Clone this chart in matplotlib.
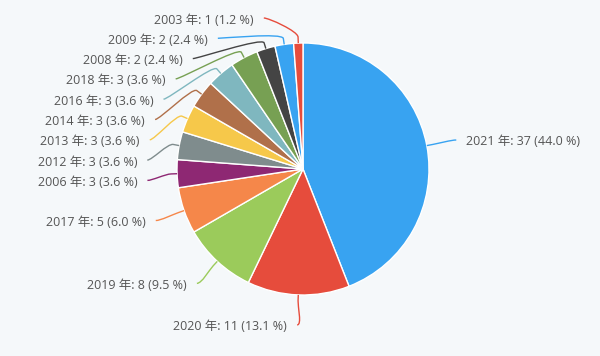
import numpy as np
import matplotlib.pyplot as plt
from matplotlib.path import Path
from matplotlib.patches import PathPatch

# Data
years = ["2021", "2020", "2019", "2017", "2006", "2012", "2013",
         "2014", "2016", "2018", "2008", "2009", "2003"]
counts = [37, 11, 8, 5, 3, 3, 3, 3, 3, 3, 2, 2, 1]
colors = ["#38a3f1", "#e64c3c", "#9bcb5b", "#f5874a", "#8e2873", "#7f8c8d",
          "#f6c84a", "#b0704a", "#7fb7bf", "#77a053", "#444444", "#38a3f1",
          "#e64c3c"]

plt.rcParams['font.family'] = ['Open Sans', 'Noto Sans CJK JP', 'DejaVu Sans']
bg = "#f5f8fa"

fig = plt.figure(figsize=(6, 3.56), dpi=100, facecolor=bg)
ax = fig.add_axes([0, 0, 1, 1])
ax.set_facecolor(bg)

# axes in pixel units, pie centre at (0, 0)
r = 126
wedges, _ = ax.pie(counts, colors=colors, radius=r, startangle=90,
                   counterclock=False,
                   wedgeprops=dict(edgecolor="white", linewidth=1))
ax.set_xlim(-303, 297)
ax.set_ylim(-187, 169)
ax.set_aspect('equal')
ax.axis('off')

total = sum(counts)
R = r + 30          # label distance
gap = 20.3          # min vertical spacing of labels
top = 169 - 18

# mid angles (clockwise from top)
cum = np.cumsum([0] + counts)
mids = [(cum[i] + cum[i + 1]) / 2 / total * 2 * np.pi for i in range(len(counts))]

labels = []
for i, a in enumerate(mids):
    side = 1 if np.sin(a) >= 0 else -1
    labels.append(dict(i=i, a=a, side=side, y=R * np.cos(a)))

# push overlapping labels downwards on each side
for side in (1, -1):
    group = sorted([l for l in labels if l["side"] == side], key=lambda l: -l["y"])
    prev = None
    for l in group:
        y = min(l["y"], top)
        if prev is not None:
            y = min(y, prev - gap)
        l["y"] = y
        prev = y

for l in labels:
    i, a, side, y = l["i"], l["a"], l["side"], l["y"]
    x = side * np.sqrt(max(R ** 2 - y ** 2, 0))
    pct = counts[i] / total * 100
    txt = f"{years[i]} 年: {counts[i]} ({pct:.1f} %)"
    ax.text(x + side * 10, y - 2, txt, ha="left" if side > 0 else "right",
            va="center", fontsize=9, color="#555555")

    # soft connector
    touch = np.array([r * np.sin(a), r * np.cos(a)])
    brk = np.array([(r + 6) * np.sin(a), (r + 6) * np.cos(a)])
    c2 = 2 * brk - touch
    verts = [(x, y), (x - side * 5, y), tuple(c2), tuple(brk), tuple(touch)]
    codes = [Path.MOVETO, Path.CURVE4, Path.CURVE4, Path.CURVE4, Path.LINETO]
    ax.add_patch(PathPatch(Path(verts, codes), fill=False,
                           edgecolor=colors[i], linewidth=1))

plt.savefig("out.png", dpi=100, facecolor=bg)
